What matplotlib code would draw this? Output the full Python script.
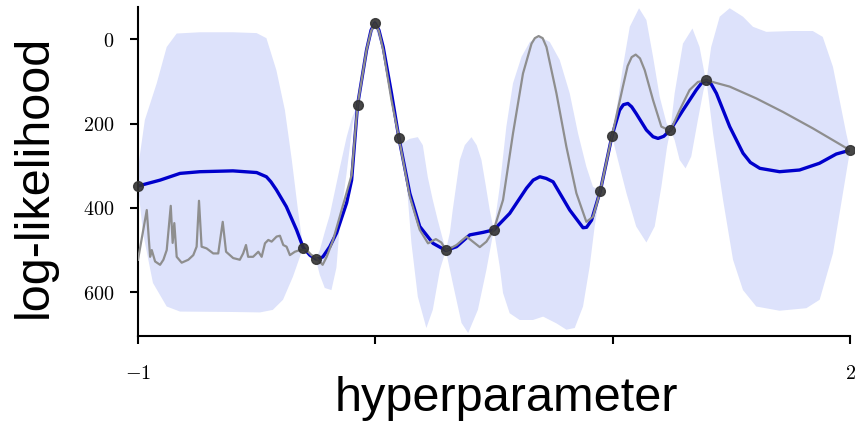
import numpy as np
import matplotlib
matplotlib.use("Agg")
import matplotlib.pyplot as plt

plt.rcParams['mathtext.fontset'] = 'cm'

# observed points
obs_x = [-1.0, -0.304, -0.251, -0.075, -0.002, 0.099, 0.297, 0.499, 0.948, 0.997, 1.243, 1.395, 2.0]
obs_y = [348, 494, 521, 156, -39, 233, 501, 452, 359, 229, 215, 97, 263]

# posterior mean (blue)
mean_x = [-1.0, -0.907, -0.823, -0.739, -0.6, -0.5, -0.459, -0.44, -0.417, -0.375, -0.332,
          -0.304, -0.276, -0.251, -0.235, -0.221, -0.192, -0.163, -0.121, -0.1, -0.075, -0.037,
          -0.018, -0.002, 0.015, 0.033, 0.068, 0.099, 0.145, 0.187, 0.243, 0.297, 0.342, 0.398,
          0.454, 0.499, 0.566, 0.637, 0.665, 0.693, 0.72, 0.749, 0.819, 0.875, 0.89, 0.911, 0.948,
          0.997, 1.029, 1.045, 1.064, 1.08, 1.099, 1.142, 1.17, 1.191, 1.215, 1.243, 1.296, 1.352,
          1.375, 1.395, 1.415, 1.437, 1.493, 1.549, 1.58, 1.62, 1.703, 1.787, 1.871, 1.942, 2.0]
mean_y = [348, 334, 318, 314, 312, 316, 326, 338, 357, 397, 452,
          494, 512, 521, 520, 516, 492, 459, 388, 334, 156, 25,
          -22, -39, -22, 18, 128, 233, 365, 444, 484, 501, 492, 464,
          458, 452, 413, 353, 334, 326, 330, 338, 405, 447, 446, 429, 359,
          229, 168, 155, 152, 160, 176, 215, 231, 235, 230, 215, 168, 120,
          103, 97, 106, 128, 207, 270, 292, 306, 314, 310, 294, 272, 263]

# true function (gray)
true_x = [-1.0, -0.963, -0.949, -0.942, -0.928, -0.907, -0.893, -0.879, -0.862, -0.854,
          -0.847, -0.837, -0.816, -0.788, -0.767, -0.753, -0.743, -0.732, -0.711, -0.683,
          -0.662, -0.643, -0.629, -0.599, -0.571, -0.557, -0.545, -0.536, -0.515, -0.493,
          -0.479, -0.465, -0.451, -0.437, -0.416, -0.402, -0.388, -0.374, -0.36, -0.339,
          -0.318, -0.29, -0.269, -0.248, -0.222, -0.205, -0.178, -0.136, -0.1, -0.075,
          -0.037, -0.018, -0.002, 0.015, 0.033, 0.068, 0.099, 0.145, 0.187, 0.222, 0.255, 0.278,
          0.299, 0.342, 0.384, 0.44, 0.468, 0.499, 0.538, 0.58, 0.622, 0.658,
          0.672, 0.688, 0.705, 0.721, 0.763, 0.805, 0.847, 0.889, 0.917, 0.948, 0.997, 1.043,
          1.063, 1.08, 1.097, 1.115, 1.135, 1.17, 1.205, 1.243, 1.282, 1.324, 1.359, 1.395,
          1.493, 1.605, 1.717, 1.843, 2.0]
true_y = [523, 405, 516, 500, 527, 535, 523, 500, 395, 483,
          436, 516, 530, 523, 512, 492, 383, 492, 496, 508,
          508, 433, 504, 519, 523, 508, 488, 516, 516, 504,
          516, 484, 476, 480, 468, 466, 488, 492, 512, 504,
          500, 500, 512, 519, 535, 516, 476, 393, 322, 156,
          25, -20, -38, -20, 25, 144, 233, 373, 452, 484, 474, 482,
          501, 488, 468, 493, 480, 452, 381, 223, 81, 10,
          -3, -8, -3, 18, 128, 255, 365, 433, 421, 359, 229, 112,
          63, 42, 36, 45, 73, 144, 207, 217, 168, 120, 101, 97,
          112, 140, 172, 211, 263]

# confidence band, upper edge
up_x = [-1.0, -0.995, -0.971, -0.921, -0.879, -0.837, -0.739, -0.6, -0.5, -0.459,
        -0.417, -0.381, -0.352, -0.326, -0.304, -0.28, -0.251, -0.234, -0.213, -0.192,
        -0.149, -0.121, -0.099, -0.075, -0.04, -0.002, 0.032, 0.068, 0.099, 0.116,
        0.145, 0.179, 0.2, 0.221, 0.242, 0.263, 0.297, 0.314, 0.326, 0.356,
        0.377, 0.405, 0.427, 0.447, 0.465, 0.482, 0.499, 0.524, 0.552, 0.58,
        0.616, 0.651, 0.693, 0.735, 0.777, 0.819, 0.854, 0.889, 0.917, 0.948,
        0.971, 0.997, 1.016, 1.043, 1.072, 1.111, 1.142, 1.17, 1.198, 1.227,
        1.243, 1.261, 1.296, 1.336, 1.366, 1.387, 1.395, 1.415, 1.451, 1.493,
        1.549, 1.591, 1.647, 1.759, 1.843, 1.885, 1.928, 1.956, 1.984, 2.0]
up_y = [348, 286, 191, 104, 18, -14, -17, -17, -15, -3,
        73, 168, 286, 405, 494, 504, 521, 500, 457, 417,
        303, 232, 187, 156, 18, -50, 9, 120, 233, 246,
        236, 232, 251, 327, 381, 429, 501, 459, 405, 286,
        251, 232, 251, 286, 346, 405, 452, 350, 207, 104,
        41, 6, -6, 6, 49, 128, 223, 302, 350, 359,
        296, 229, 168, 65, -30, -74, -46, 41, 136, 199,
        215, 128, 10, -26, 18, 81, 97, 18, -54, -74,
        -54, -30, -18, -20, -20, -6, 65, 144, 223, 263]

# confidence band, lower edge
lo_x = [-1.0, -0.979, -0.937, -0.879, -0.823, -0.6, -0.486, -0.432, -0.389, -0.347,
        -0.304, -0.276, -0.251, -0.234, -0.213, -0.185, -0.164, -0.149, -0.121, -0.095,
        -0.075, -0.04, -0.002, 0.032, 0.068, 0.099, 0.124, 0.152, 0.179, 0.215,
        0.242, 0.272, 0.297, 0.326, 0.363, 0.391, 0.432, 0.468, 0.499, 0.524,
        0.538, 0.566, 0.608, 0.664, 0.707, 0.763, 0.805, 0.84, 0.875, 0.903,
        0.924, 0.948, 0.971, 0.997, 1.022, 1.058, 1.099, 1.142, 1.177, 1.205,
        1.229, 1.243, 1.261, 1.282, 1.307, 1.331, 1.359, 1.383, 1.395, 1.423,
        1.465, 1.507, 1.549, 1.605, 1.703, 1.816, 1.872, 1.928, 1.97, 2.0]
lo_y = [348, 459, 578, 634, 646, 647, 648, 642, 618, 563,
        494, 519, 521, 559, 590, 595, 542, 436, 317, 199,
        156, 35, -32, 30, 139, 233, 286, 483, 611, 685,
        642, 547, 501, 578, 673, 697, 642, 547, 452, 539,
        602, 650, 666, 666, 658, 674, 689, 685, 634, 539,
        444, 359, 293, 229, 286, 365, 444, 482, 444, 350,
        255, 215, 239, 286, 306, 278, 191, 120, 97, 223,
        381, 523, 595, 634, 644, 638, 618, 508, 365, 263]

fig = plt.figure(figsize=(8.55, 4.21), dpi=100)
ax = fig.add_axes([0.1614, 0.2019, 0.8328, 0.7815])

band_x = np.concatenate([up_x, lo_x[::-1]])
band_y = np.concatenate([up_y, lo_y[::-1]])
ax.fill(band_x, band_y, color='#dde2fb', lw=0, zorder=1)
ax.plot(mean_x, mean_y, color='#0000cc', lw=2.4, zorder=2, solid_joinstyle='round')
ax.plot(true_x, true_y, color='#8e8e8e', lw=1.6, zorder=3, solid_joinstyle='round')
ax.plot(obs_x, obs_y, 'o', color='#333333', ms=7, alpha=0.9, zorder=4, clip_on=False)

ax.set_xlim(-1, 2)
ax.set_ylim(704, -77)

ax.spines['top'].set_visible(False)
ax.spines['right'].set_visible(False)
ax.spines['left'].set_linewidth(1.5)
ax.spines['bottom'].set_linewidth(1.5)

ax.set_xticks([-1, 0, 1, 2])
ax.set_xticklabels(['$-1$', '', '', '$2$'])
ax.set_yticks([0, 200, 400, 600])
ax.set_yticklabels(['$0$', '$200$', '$400$', '$600$'])
ax.tick_params(axis='x', length=6, width=1.5, pad=14, labelsize=14.5)
ax.tick_params(axis='y', length=6, width=1.5, pad=11, labelsize=14.5)

fig.text(0.04, 0.58, 'log-likelihood', rotation=90, ha='center', va='center',
         fontsize=35, family='Liberation Sans')
fig.text(0.592, 0.054, 'hyperparameter', ha='center', va='center',
         fontsize=35, family='Liberation Sans')

fig.savefig('out.png', dpi=100)
